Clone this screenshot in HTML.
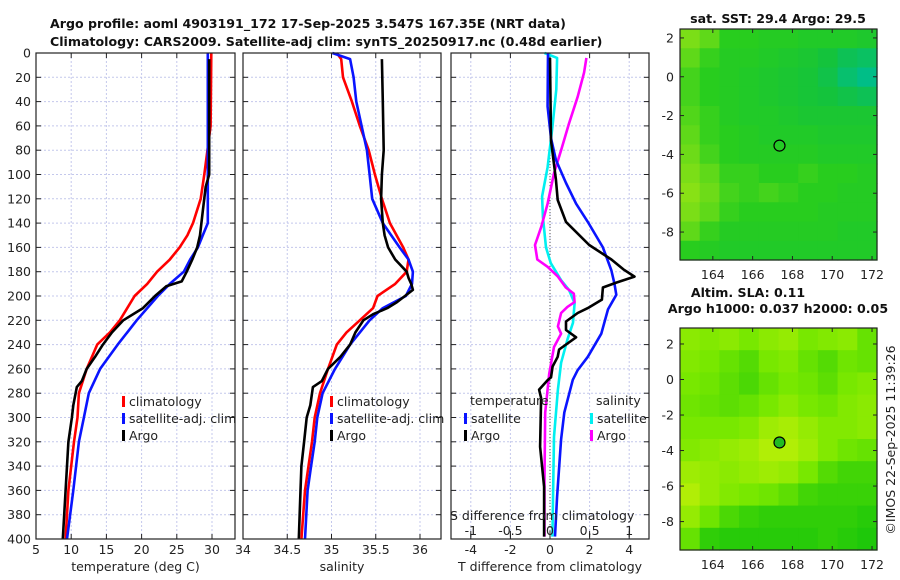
<!DOCTYPE html>
<html><head><meta charset="utf-8">
<style>
html,body{margin:0;padding:0;background:#fff;}
svg{display:block;font-family:"DejaVu Sans","Liberation Sans",sans-serif;}
.t{font-size:12.5px;fill:#222;}
.b{font-size:12.6px;font-weight:bold;fill:#111;}
</style></head>
<body>
<svg id="fig" width="900" height="580" viewBox="0 0 900 580">
<text class="b" x="50" y="28">Argo profile: aoml 4903191_172 17-Sep-2025 3.547S 167.35E (NRT data)</text>
<text class="b" x="50" y="46">Climatology: CARS2009. Satellite-adj clim: synTS_20250917.nc (0.48d earlier)</text>
<text class="b" x="778" y="23" text-anchor="middle">sat. SST: 29.4 Argo: 29.5</text>
<text class="b" x="748" y="297" text-anchor="middle">Altim. SLA: 0.11</text>
<text class="b" x="778" y="313" text-anchor="middle">Argo h1000: 0.037 h2000: 0.05</text>
<text class="t" transform="translate(895,440) rotate(-90)" text-anchor="middle">©IMOS 22-Sep-2025 11:39:26</text>
<g id="plots"></g>
</svg>
<script>
// ---- data ----
const depthTicks = [0,20,40,60,80,100,120,140,160,180,200,220,240,260,280,300,320,340,360,380,400];
const tempTicks = [5,10,15,20,25,30];
const salTicks = [34,34.5,35,35.5,36];
const salTickLabels = ["34","34.5","35","35.5","36"];
const tdiffTicks = [-4,-2,0,2,4];
const sdiffTicks = [-1,-0.5,0,0.5,1];
const sdiffTickLabels = ["-1","-0.5","0","0.5","1"];

const tClimDepth = [0,60,100,120,140,150,160,170,180,190,200,220,230,240,260,280,300,320,340,360,400];
const tClimVal   = [29.9,29.8,28.9,28.4,27.3,26.5,25.4,24.0,22.2,20.8,19.0,16.9,15.5,13.7,12.2,11.1,10.9,10.4,10.0,9.6,9.2];
const tSatDepth = [0,140,150,160,170,180,190,200,220,240,260,280,300,320,340,360,400];
const tSatVal   = [29.4,29.4,28.7,28.0,26.9,26.0,24.0,22.3,19.3,16.6,14.1,12.5,11.8,11.1,10.7,10.3,9.4];
const tArgoDepth = [5,100,110,130,150,160,170,180,188,192,200,210,220,230,240,250,260,270,275,290,300,320,340,360,400];
const tArgoVal   = [29.6,29.6,29.1,28.7,28.3,27.9,27.2,26.4,25.7,23.5,21.9,20.2,17.4,15.8,14.5,13.4,12.2,11.5,10.8,10.3,10.1,9.6,9.4,9.2,8.8];

const sClimDepth = [0,5,20,40,60,80,100,120,140,160,170,180,190,200,210,220,230,240,260,280,300,320,340,360,400];
const sClimVal   = [35.06,35.11,35.13,35.23,35.32,35.42,35.49,35.57,35.66,35.81,35.87,35.85,35.72,35.52,35.47,35.32,35.17,35.06,34.96,34.87,34.81,34.78,34.74,34.70,34.66];
const sSatDepth = [0,5,20,40,60,80,100,120,140,160,170,180,190,200,210,220,240,260,280,300,320,340,360,400];
const sSatVal   = [35.01,35.21,35.25,35.28,35.34,35.40,35.43,35.46,35.58,35.77,35.87,35.92,35.91,35.84,35.58,35.43,35.21,35.04,34.90,34.84,34.81,34.77,34.73,34.70];
const sArgoDepth = [5,40,80,100,120,140,150,160,170,180,185,190,195,205,210,215,220,230,240,250,260,270,275,290,300,320,340,360,400];
const sArgoVal   = [35.57,35.58,35.59,35.57,35.56,35.58,35.60,35.64,35.72,35.85,35.87,35.90,35.92,35.74,35.63,35.47,35.36,35.27,35.21,35.10,34.96,34.89,34.79,34.76,34.72,34.69,34.66,34.65,34.63];

const dTSatDepth = [0,44,70,88,107,124,139,160,179,190,199,211,231,250,261,269,296,318,365,398];
const dTSatVal   = [-0.1,-0.12,0.05,0.3,0.81,1.32,1.91,2.67,3.1,3.26,3.35,2.93,2.59,1.91,1.4,1.15,0.72,0.56,0.36,0.25];
const dTArgoDepth = [4,72,104,121,139,158,170,178,184,189,193,203,210,214,221,228,234,244,250,258,267,269,277,284,324,357,398];
const dTArgoVal   = [0,0.05,0.3,0.39,0.81,1.98,3.1,3.7,4.27,3.35,2.67,2.62,1.91,1.4,0.81,0.81,1.32,0.46,0.39,0.13,0.05,-0.1,-0.55,-0.45,-0.5,-0.3,-0.3];
const dSSatDepth = [0,4,30,61,94,118,135,160,173,187,195,206,222,236,255,277,316,398];
const dSSatVal   = [-0.07,0.09,0.08,0.03,-0.03,-0.1,-0.09,-0.05,0.01,0.14,0.24,0.31,0.29,0.22,0.14,0.1,0.05,0.03];
const dSArgoDepth = [4,16,36,58,80,99,124,143,158,170,176,184,193,198,205,209,214,225,231,242,264,296,351,398];
const dSArgoVal   = [0.46,0.43,0.35,0.24,0.14,0.05,-0.03,-0.11,-0.19,-0.16,-0.03,0.1,0.2,0.3,0.31,0.22,0.14,0.1,0.14,0.05,-0.01,-0.06,-0.07,-0.07];

const lonTicks = [164,166,168,170,172];
const sstLatTicks = [2,0,-2,-4,-6,-8];
const slaLatTicks = [2,0,-2,-4,-6,-8];
const argoLon = [167.35];
const argoLat = [-3.547];
const sstGrid = [
 [0.1,0.2,0.4,0.4,0.45,0.45,0.5,0.5,0.5,0.55],
 [0.2,0.35,0.45,0.45,0.5,0.55,0.6,0.7,0.8,0.85],
 [0.3,0.4,0.45,0.5,0.55,0.6,0.65,0.75,0.9,1.0],
 [0.3,0.4,0.45,0.5,0.55,0.6,0.65,0.7,0.75,0.8],
 [0.25,0.35,0.45,0.5,0.5,0.55,0.6,0.6,0.6,0.6],
 [0.2,0.35,0.4,0.45,0.5,0.5,0.5,0.55,0.55,0.55],
 [0.15,0.3,0.4,0.45,0.45,0.45,0.45,0.5,0.5,0.5],
 [0.1,0.2,0.35,0.35,0.4,0.4,0.35,0.4,0.4,0.45],
 [0.05,0.15,0.3,0.35,0.3,0.35,0.4,0.4,0.45,0.45],
 [0.1,0.2,0.35,0.4,0.4,0.4,0.4,0.45,0.45,0.45],
 [0.2,0.35,0.45,0.45,0.45,0.45,0.45,0.45,0.5,0.5],
 [0.4,0.45,0.5,0.5,0.5,0.5,0.5,0.5,0.5,0.5]];
const slaGrid = [
 [0.4,0.45,0.4,0.5,0.4,0.35,0.5,0.45,0.4,0.6],
 [0.45,0.5,0.6,0.7,0.5,0.45,0.6,0.7,0.55,0.6],
 [0.5,0.55,0.65,0.75,0.6,0.5,0.55,0.65,0.5,0.45],
 [0.55,0.6,0.65,0.6,0.5,0.4,0.5,0.55,0.45,0.4],
 [0.5,0.5,0.5,0.45,0.3,0.25,0.35,0.45,0.45,0.4],
 [0.45,0.4,0.35,0.3,0.2,0.2,0.3,0.45,0.55,0.6],
 [0.3,0.35,0.4,0.35,0.3,0.35,0.5,0.7,0.8,0.8],
 [0.2,0.35,0.45,0.5,0.55,0.65,0.8,0.85,0.85,0.85],
 [0.35,0.55,0.75,0.85,0.9,0.9,0.9,0.9,0.9,0.95],
 [0.6,0.9,0.95,0.95,0.95,0.95,0.95,0.9,0.95,1.0]];

// ---- drawing ----
const NS = "http://www.w3.org/2000/svg";
const root = document.getElementById('plots');
function mk(tag, attrs, parent){
  const e = document.createElementNS(NS, tag);
  for (const k in attrs) e.setAttribute(k, attrs[k]);
  (parent||root).appendChild(e);
  return e;
}
const Y0 = 53, Y1 = 539;
const yD = d => Y0 + (d/400)*(Y1-Y0);
function lin(d0,d1,r0,r1){ return v => r0 + (v-d0)/(d1-d0)*(r1-r0); }

const panels = [
  {name:'temperature-panel', x0:36, x1:235, dom:[5,5+199/7.04], ticks:tempTicks, labels:tempTicks.map(String), title:'temperature (deg C)'},
  {name:'salinity-panel', x0:243, x1:441, dom:[34,34+198/88.5], ticks:salTicks, labels:salTickLabels, title:'salinity'},
  {name:'difference-panel', x0:451, x1:649, dom:[-5,5], ticks:tdiffTicks, labels:tdiffTicks.map(String), title:'T difference from climatology'}
];
panels.forEach((p,pi)=>{
  const g = mk('g',{});
  
  
  p.g = g;
  p.x = lin(p.dom[0],p.dom[1],p.x0,p.x1);
  depthTicks.forEach(d=>{
    const l = mk('line',{x1:p.x0,x2:p.x1,y1:yD(d),y2:yD(d),stroke:'#c4c8ec','stroke-width':1,'stroke-dasharray':'2,2'},g);
    
    
    mk('line',{x1:p.x0,x2:p.x0+5,y1:yD(d),y2:yD(d),stroke:'#222'},g);
    mk('line',{x1:p.x1-5,x2:p.x1,y1:yD(d),y2:yD(d),stroke:'#222'},g);
    if(pi===0){
      const t = mk('text',{x:31,y:yD(d)+4.5,'text-anchor':'end',class:'t'},g);
      t.textContent = d;
      
      
    }
  });
  p.ticks.forEach((v,i)=>{
    const X = p.x(v);
    const l = mk('line',{x1:X,x2:X,y1:Y0,y2:Y1,stroke:'#c4c8ec','stroke-width':1,'stroke-dasharray':'2,2'},g);
    
    
    mk('line',{x1:X,x2:X,y1:Y1-5,y2:Y1,stroke:'#222'},g);
    mk('line',{x1:X,x2:X,y1:Y0,y2:Y0+5,stroke:'#222'},g);
    const t = mk('text',{x:X,y:554,'text-anchor':'middle',class:'t'},g);
    t.textContent = p.labels[i];
    
    
  });
  const at = mk('text',{x:(p.x0+p.x1)/2,y:571,'text-anchor':'middle',class:'t'},g);
  at.textContent = p.title;
  
  
});

function series(p, depths, vals, color, name, xf){
  const f = xf || p.x;
  const pts = depths.map((d,i)=> f(vals[i]).toFixed(1)+','+yD(d).toFixed(1)).join(' ');
  const pl = mk('polyline',{points:pts,fill:'none',stroke:color,'stroke-width':2.6,'stroke-linejoin':'round'},p.g);
  
  
}
const zl = mk('line',{x1:panels[2].x(0),x2:panels[2].x(0),y1:Y0,y2:Y1,stroke:'#555','stroke-width':1,'stroke-dasharray':'1,2'},panels[2].g);



series(panels[0], tClimDepth, tClimVal, '#ff0000', 'temp-climatology-line');
series(panels[0], tSatDepth, tSatVal, '#0a14ff', 'temp-satellite-line');
series(panels[0], tArgoDepth, tArgoVal, '#000000', 'temp-argo-line');
series(panels[1], sClimDepth, sClimVal, '#ff0000', 'sal-climatology-line');
series(panels[1], sSatDepth, sSatVal, '#0a14ff', 'sal-satellite-line');
series(panels[1], sArgoDepth, sArgoVal, '#000000', 'sal-argo-line');
const sx = lin(-1.25,1.25,451,649);
series(panels[2], dSSatDepth, dSSatVal, '#00f0f0', 'sdiff-satellite-line', sx);
series(panels[2], dSArgoDepth, dSArgoVal, '#ff00ff', 'sdiff-argo-line', sx);
series(panels[2], dTSatDepth, dTSatVal, '#0a14ff', 'tdiff-satellite-line');
series(panels[2], dTArgoDepth, dTArgoVal, '#000000', 'tdiff-argo-line');

const st = mk('text',{x:450,y:520,class:'t'},panels[2].g);
st.textContent = 'S difference from climatology';


sdiffTicks.forEach((v,i)=>{
  const t = mk('text',{x:sx(v),y:535,'text-anchor':'middle',class:'t'},panels[2].g);
  t.textContent = sdiffTickLabels[i];
  
  
  mk('line',{x1:sx(v),x2:sx(v),y1:531,y2:537,stroke:'#222'},panels[2].g);
});

function legend(g, x, y, color, label, nm){
  mk('rect',{x:x-2,y:y-9,width:3,height:11,fill:color},g);
  const t = mk('text',{x:x+5,y:y+1,class:'t'},g);
  t.textContent = label;
  
  
}
[[0,124],[1,332]].forEach(([pi,x])=>{
  legend(panels[pi].g,x,405,'#ff0000','climatology','legend-climatology');
  legend(panels[pi].g,x,422,'#0a14ff','satellite-adj. clim','legend-satellite-adj');
  legend(panels[pi].g,x,439,'#000000','Argo','legend-argo');
});
const lt = mk('text',{x:470,y:405,class:'t'},panels[2].g); lt.textContent='temperature';


const ls = mk('text',{x:596,y:405,class:'t'},panels[2].g); ls.textContent='salinity';


legend(panels[2].g,466,422,'#0a14ff','satellite','legend-t-satellite');
legend(panels[2].g,466,439,'#000000','Argo','legend-t-argo');
legend(panels[2].g,592,422,'#00f0f0','satellite','legend-s-satellite');
legend(panels[2].g,592,439,'#ff00ff','Argo','legend-s-argo');

panels.forEach(p=>{
  const r = mk('rect',{x:p.x0,y:Y0,width:p.x1-p.x0,height:Y1-Y0,fill:'none',stroke:'#222','stroke-width':1.2},p.g);
  
  
});

function mix(a,b,t){return a.map((v,i)=>Math.round(v+(b[i]-v)*t));}
function ramp(stops, v){
  for(let i=0;i<stops.length-1;i++){
    if(v<=stops[i+1][0]){const t=(v-stops[i][0])/(stops[i+1][0]-stops[i][0]);return mix(stops[i][1],stops[i+1][1],t);}
  }
  return stops[stops.length-1][1];
}
const sstStops=[[0,[150,228,20]],[0.4,[40,205,30]],[0.7,[20,195,60]],[1,[0,190,135]]];
const slaStops=[[0,[215,242,10]],[0.5,[120,232,0]],[1,[30,200,10]]];
function map(opts){
  const g = mk('g',{});
  
  
  const xL = lin(opts.lon[0],opts.lon[1],opts.x0,opts.x1);
  const yL = lin(opts.lat[0],opts.lat[1],opts.y0,opts.y1);
  const rows = opts.grid.length, cols = opts.grid[0].length;
  const cw=(opts.x1-opts.x0)/cols, ch=(opts.y1-opts.y0)/rows;
  opts.grid.forEach((row,r)=>row.forEach((v,c)=>{
    const col = ramp(opts.stops,v);
    const rc = mk('rect',{x:opts.x0+c*cw,y:opts.y0+r*ch,width:cw+0.6,height:ch+0.6,fill:'rgb('+col.join(',')+')'},g);
    
    
  }));
  mk('rect',{x:opts.x0,y:opts.y0,width:opts.x1-opts.x0,height:opts.y1-opts.y0,fill:'none',stroke:'#222','stroke-width':1.2},g);
  lonTicks.forEach(v=>{
    const X=xL(v);
    mk('line',{x1:X,x2:X,y1:opts.y1-4,y2:opts.y1,stroke:'#222'},g);
    mk('line',{x1:X,x2:X,y1:opts.y0,y2:opts.y0+4,stroke:'#222'},g);
    const t=mk('text',{x:X,y:opts.y1+19,'text-anchor':'middle',class:'t'},g);
    t.textContent=v;
    
    
  });
  opts.latTicks.forEach(v=>{
    const Y=yL(v);
    mk('line',{x1:opts.x0,x2:opts.x0+4,y1:Y,y2:Y,stroke:'#222'},g);
    mk('line',{x1:opts.x1-4,x2:opts.x1,y1:Y,y2:Y,stroke:'#222'},g);
    const t=mk('text',{x:opts.x0-6,y:Y+4.5,'text-anchor':'end',class:'t'},g);
    t.textContent=v;
    
    
  });
  const c = mk('circle',{cx:xL(argoLon[0]),cy:yL(argoLat[0]),r:5.5,fill:opts.dotFill,stroke:'#000','stroke-width':1.2},g);
  
  
}
map({name:'sst-map',x0:680,x1:877,y0:29,y1:260,lon:[162.35,172.25],lat:[2.46,-9.44],grid:sstGrid,stops:sstStops,latTicks:sstLatTicks,dotFill:'none'});
map({name:'sla-map',x0:680,x1:877,y0:328,y1:550,lon:[162.35,172.25],lat:[2.9,-9.6],grid:slaGrid,stops:slaStops,latTicks:slaLatTicks,dotFill:'#22bb22'});
</script>
</body></html>
